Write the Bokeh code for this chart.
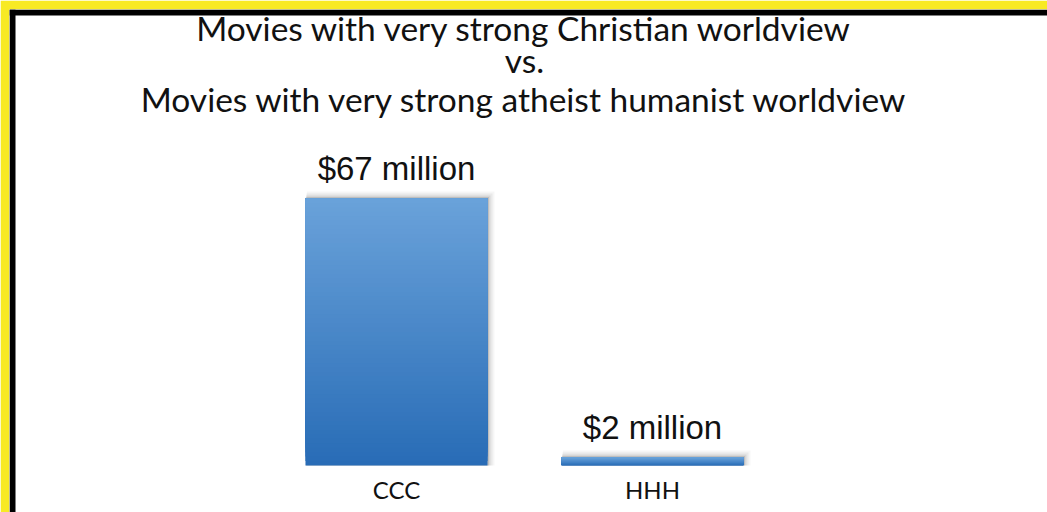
import numpy as np
from bokeh.plotting import figure
from bokeh.models import Range1d, BoxAnnotation
from bokeh.core.properties import value
from bokeh.embed import file_html
from bokeh.resources import INLINE

# ---- data ----
title_lines = [
    "Movies with very strong Christian worldview",
    "vs.",
    "Movies with very strong atheist humanist worldview",
]
categories = ["CCC", "HHH"]
revenue = [67, 2]  # $ millions
value_labels = ["$67 million", "$2 million"]

# ---- styling constants ----
W, H = 1047, 512
YELLOW_W = 9           # yellow strip (figure border)
BLACK_W = 6            # black strip (drawn inside the frame)
TOP_COLOR = np.array([106, 162, 218])
BOT_COLOR = np.array([40, 108, 182])
BAR_W = 0.711
N_SEG = 60

px_x = 256.0      # pixels per x unit
px_y = 3.9857     # pixels per y unit
X0 = -(396.0 - YELLOW_W) / px_x
X1 = X0 + (W - YELLOW_W) / px_x
Y1 = (465.0 - YELLOW_W) / px_y
Y0 = Y1 - (H - YELLOW_W) / px_y

xs = np.arange(len(categories), dtype=float)

p = figure(width=W, height=H, output_backend="svg", toolbar_location=None,
           x_range=Range1d(X0, X1), y_range=Range1d(Y0, Y1),
           min_border_left=YELLOW_W, min_border_top=YELLOW_W,
           min_border_right=0, min_border_bottom=0)
p.axis.visible = False
p.grid.visible = False
p.outline_line_color = None
p.border_fill_color = "#f8ea24"
p.background_fill_color = "white"

# black frame strips (left and top)
p.add_layout(BoxAnnotation(left=X0, right=X0 + BLACK_W / px_x,
                           fill_color="black", fill_alpha=1.0, line_color=None))
p.add_layout(BoxAnnotation(top=Y1, bottom=Y1 - BLACK_W / px_y,
                           fill_color="black", fill_alpha=1.0, line_color=None))

# soft shadow (up and right)
for k, a in [(7, 0.05), (5, 0.08), (3, 0.12), (1.5, 0.18)]:
    p.quad(left=xs - BAR_W / 2 + k * 0.2 / px_x,
           right=xs + BAR_W / 2 + k / px_x,
           bottom=np.zeros(len(xs)),
           top=np.array(revenue, dtype=float) + k / px_y,
           fill_color="#555555", fill_alpha=a, line_color=None)

# gradient bars (overlapping slices, darker at the bottom)
lefts, rights, bottoms, tops, colors = [], [], [], [], []
for i, v in enumerate(revenue):
    for j in range(N_SEG):
        f = (j + 0.5) / N_SEG
        c = BOT_COLOR + (TOP_COLOR - BOT_COLOR) * f
        lefts.append(xs[i] - BAR_W / 2)
        rights.append(xs[i] + BAR_W / 2)
        bottoms.append(v * j / N_SEG)
        tops.append(v)
        colors.append("#%02x%02x%02x" % tuple(int(round(t)) for t in c))
p.quad(left=lefts, right=rights, bottom=bottoms, top=tops,
       fill_color=colors, line_color=None)

# value labels above bars
p.text(x=xs, y=revenue, text=value_labels, text_align="center",
       text_baseline="middle", y_offset=-30,
       text_font=value("Liberation Sans"), text_font_size="33px",
       text_color="#111111")

# category labels below bars
p.text(x=xs, y=np.zeros(len(xs)), text=categories, text_align="center",
       text_baseline="middle", y_offset=24,
       text_font=value("Lato"), text_font_size="24px", text_color="#111111")

# title (three lines)
title_px = [27, 59, 98]
title_y = [Y1 - (t - YELLOW_W) / px_y for t in title_px]
p.text(x=[0.5] * 3, y=title_y, text=title_lines, text_align="center",
       text_baseline="middle", text_font=value("Lato"),
       text_font_size="33.5px", text_color="#111111")

template = """
{% block postamble %}
<style>
html, body { background: #ffffff; margin: 0; padding: 0; overflow: hidden; }
</style>
{% endblock %}
"""

open("out.html", "w").write(file_html(p, INLINE, template=template))
